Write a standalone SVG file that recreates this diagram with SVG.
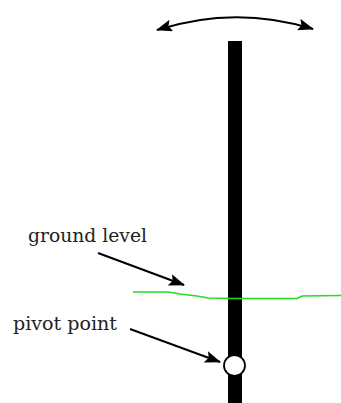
<svg xmlns="http://www.w3.org/2000/svg" width="341" height="403" viewBox="0 0 341 403">
<style>
.lbl{font-family:"DejaVu Serif","Liberation Serif",serif;font-size:18px;fill:#222}
.arr{stroke:#000;stroke-width:2;fill:none}
</style>
<defs>
<marker id="ah2" markerWidth="16" markerHeight="12" refX="15" refY="6" orient="auto-start-reverse" markerUnits="userSpaceOnUse">
<path d="M0,0 L16,6 L0,12 L3,6 Z" fill="#000"/>
</marker>
</defs>
<rect width="341" height="403" fill="#fff"/>
<g id="pole">
<rect x="228" y="41" width="14" height="362" fill="#000"/>
</g>
<g id="swing">
<path d="M157,30 Q235,5 313,29" class="arr" marker-start="url(#ah2)" marker-end="url(#ah2)"/>
</g>
<g id="ground">
<polyline points="133,292 168,292 180,294 197,296 208,298 230,298.5 297,298.5 302,296 341,295.5" fill="none" stroke="#22dd22" stroke-width="1.6"/>
</g>
<g id="pivot">
<circle cx="234.5" cy="365.5" r="10.5" fill="#fff" stroke="#000" stroke-width="1.8"/>
</g>
<g id="labels">
<text class="lbl" x="28" y="242" textLength="119" lengthAdjust="spacingAndGlyphs">ground level</text>
<text class="lbl" x="13" y="330" textLength="104" lengthAdjust="spacingAndGlyphs">pivot point</text>
</g>
<g id="connectors">
<line x1="98" y1="253" x2="184" y2="285" class="arr" marker-end="url(#ah2)"/>
<line x1="130" y1="329" x2="220" y2="362" class="arr" marker-end="url(#ah2)"/>
</g>
</svg>
